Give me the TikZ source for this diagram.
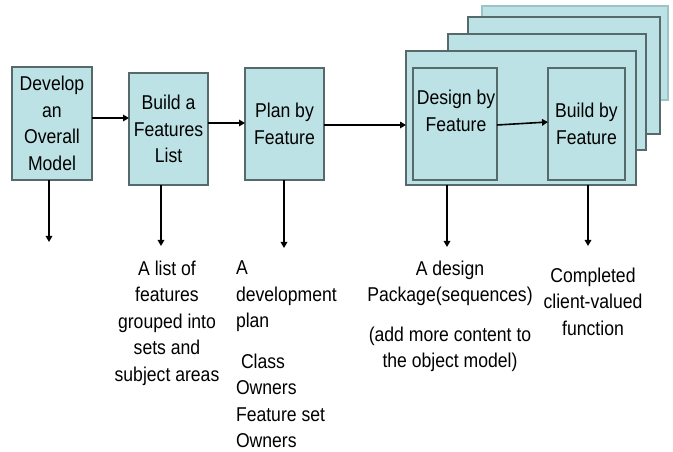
\documentclass[tikz,border=0pt]{standalone}
\usepackage{fontspec}
\setmainfont{Liberation Sans}[FakeStretch=0.88]
\usetikzlibrary{arrows.meta}
\definecolor{boxfill}{HTML}{BCE2E5}
\definecolor{boxline}{HTML}{56696B}
\definecolor{backline}{HTML}{9CC4C8}

\begin{document}
\begin{tikzpicture}[x=1bp, y=-1bp,
  txt/.style={font=\fontsize{20bp}{26.5bp}\selectfont, inner sep=0pt, outer sep=0pt},
  stage/.style={txt, draw=boxline, line width=1.3bp, fill=boxfill, align=center,
                anchor=north west},
  flow/.style={line width=1.6bp, -{Triangle[width=6.5bp,length=6bp]}},
  result/.style={txt, align=center, anchor=north},
  resultleft/.style={txt, align=left, anchor=north west}
]
\useasboundingbox (0,0) rectangle (673,452);

% iteration stack behind the design/build pair
\draw[draw=backline, line width=1.3bp, fill=boxfill] (482,6) rectangle (668,100);
\draw[draw=boxline, line width=1.3bp, fill=boxfill] (468,17) rectangle (660,134);
\draw[draw=boxline, line width=1.3bp, fill=boxfill] (448,34) rectangle (646,150);
\node[stage, minimum width=230bp, minimum height=134bp] (iter) at (406,51) {};

% process stages
\node[stage, minimum width=80bp, minimum height=113bp] (dev) at (12,67)
  {Develop\\an\\Overall\\Model};
\node[stage, minimum width=79bp, minimum height=112bp] (feat) at (129,73)
  {Build a\\Features\\List};
\node[stage, minimum width=79bp, minimum height=112bp] (plan) at (245,68)
  {Plan by\\Feature};
\node[stage, minimum width=84bp, minimum height=112bp] (design) at (413,68) {};
\node[txt, align=center] (designtxt) at (456,111) {Design by\\Feature};
\node[stage, minimum width=77bp, minimum height=112bp] (build) at (548,68)
  {Build by\\Feature};

% flow between stages
\draw[flow] (dev.east |- 0,118) -- (feat.west |- 0,118);
\draw[flow] (feat.east |- 0,123) -- (plan.west |- 0,123);
\draw[flow] (plan.east |- 0,125) -- (iter.west |- 0,125);
\draw[flow] (design.east |- 0,125) -- (build.west |- 0,122);

% outputs of each stage
\coordinate (devout) at (49,242);
\coordinate (featout) at (161,246);
\coordinate (planout) at (284,248);
\coordinate (designout) at (447,247);
\coordinate (buildout) at (588,246);
\draw[flow] (dev.south -| devout) -- (devout);
\draw[flow] (feat.south -| featout) -- (featout);
\draw[flow] (plan.south -| planout) -- (planout);
\draw[flow] (iter.south -| designout) -- (designout);
\draw[flow] (iter.south -| buildout) -- (buildout);

% output descriptions
\node[result] (list) at (167,261)
  {A list of\\features\\grouped into\\sets and\\subject areas};
\node[resultleft] (devplan) at (236,261) {A\\development\\plan};
\node[resultleft] (owners) at (236,354)
  {\hspace{5bp}Class\\Owners\\Feature set\\Owners};
\node[result] (package) at (450,261) {A design\\Package(sequences)};
\node[result] (content) at (450,327) {(add more content to\\the object model)};
\node[result] (function) at (593,268) {Completed\\client-valued\\function};
\end{tikzpicture}
\end{document}
